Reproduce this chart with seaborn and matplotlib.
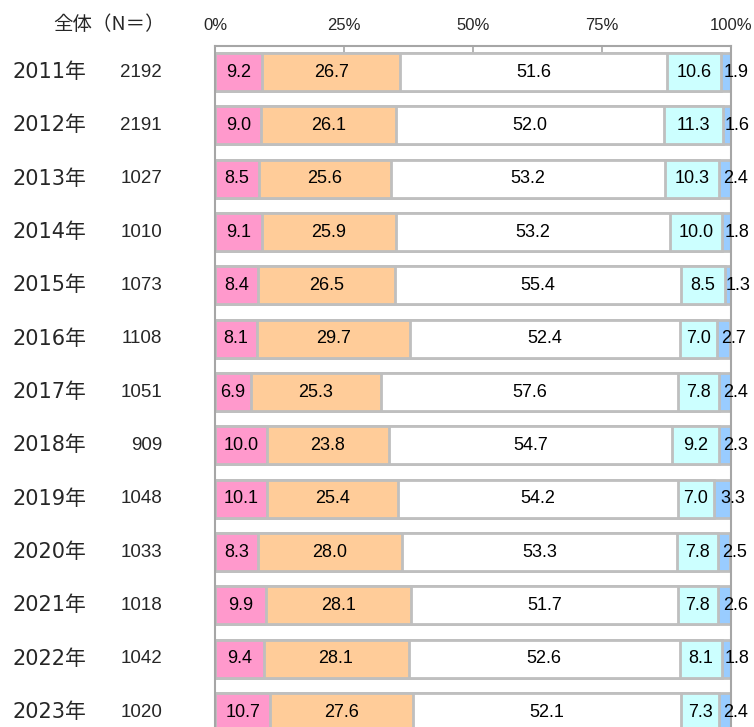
import matplotlib
matplotlib.use("Agg")
import matplotlib.pyplot as plt
import matplotlib.transforms as mtransforms
import numpy as np
import pandas as pd
import seaborn as sns

# Survey results by year (percent of respondents per answer category)
years = ["2011年", "2012年", "2013年", "2014年", "2015年", "2016年", "2017年",
         "2018年", "2019年", "2020年", "2021年", "2022年", "2023年"]
n_counts = [2192, 2191, 1027, 1010, 1073, 1108, 1051, 909, 1048, 1033, 1018, 1042, 1020]
seg1 = [9.2, 9.0, 8.5, 9.1, 8.4, 8.1, 6.9, 10.0, 10.1, 8.3, 9.9, 9.4, 10.7]
seg2 = [26.7, 26.1, 25.6, 25.9, 26.5, 29.7, 25.3, 23.8, 25.4, 28.0, 28.1, 28.1, 27.6]
seg3 = [51.6, 52.0, 53.2, 53.2, 55.4, 52.4, 57.6, 54.7, 54.2, 53.3, 51.7, 52.6, 52.1]
seg4 = [10.6, 11.3, 10.3, 10.0, 8.5, 7.0, 7.8, 9.2, 7.0, 7.8, 7.8, 8.1, 7.3]
seg5 = [1.9, 1.6, 2.4, 1.8, 1.3, 2.7, 2.4, 2.3, 3.3, 2.5, 2.6, 1.8, 2.4]
tick_values = [0, 25, 50, 75, 100]
tick_labels = ["0%", "25%", "50%", "75%", "100%"]
header = "全体（N＝）"

segments = [seg1, seg2, seg3, seg4, seg5]
colors = ["#FF99CC", "#FFCC99", "#FFFFFF", "#CCFFFF", "#99CCFF"]
edge = "#BFBFBF"
num_font = ["Liberation Sans", "DejaVu Sans"]

sns.set_style("white")
plt.rcParams["font.family"] = ["Noto Sans CJK JP", "DejaVu Sans"]

W, H = 754, 727
fig = plt.figure(figsize=(W / 100, H / 100), dpi=100)
ax = fig.add_axes([215 / W, 0, 516 / W, (H - 46) / H])

vals = np.array(segments)            # shape (5, n_years)
cum = np.cumsum(vals, axis=0)
starts = cum - vals

df = pd.DataFrame({"year": years})
for k in range(5):
    df[f"cum{k}"] = cum[k]

# Stacked bars: draw cumulative totals from the outermost segment inwards
for k in range(4, -1, -1):
    sns.barplot(data=df, x=f"cum{k}", y="year", orient="h", color=colors[k],
                saturation=1, edgecolor=edge, linewidth=2.0, width=0.71, ax=ax)

# Value labels inside each segment
for k in range(5):
    for i in range(len(years)):
        v = vals[k, i]
        xc = starts[k, i] + v / 2
        if k == 4:
            xc += 2.0
        ax.text(xc, i, f"{v:.1f}", ha="center", va="center", fontsize=13,
                color="black", family=num_font)

ax.set_xlim(0, 100)
ax.set_ylim(12.28, -0.488)
ax.set_xlabel("")
ax.set_ylabel("")
ax.set_yticks([])
ax.xaxis.tick_top()
ax.set_xticks(tick_values)
ax.set_xticklabels(tick_labels, fontsize=12, family=num_font)
ax.tick_params(axis="x", direction="in", length=5, color="#A6A6A6", pad=9, width=1.2)
for side in ["top", "left", "right"]:
    ax.spines[side].set_color("#A6A6A6")
    ax.spines[side].set_linewidth(1.5)
ax.spines["bottom"].set_visible(False)

# Row labels to the left of the bars
trans = mtransforms.blended_transform_factory(fig.transFigure, ax.transData)
for i, (yr, n) in enumerate(zip(years, n_counts)):
    fig.text(13 / W, i, yr, transform=trans, ha="left", va="center", fontsize=15,
             family=["DejaVu Sans", "Noto Sans CJK JP"])
    fig.text(162 / W, i, str(n), transform=trans, ha="right", va="center", fontsize=13.5,
             family=num_font)

fig.text(109 / W, 1 - 24 / H, header, ha="center", va="center", fontsize=14)

fig.savefig("out.png", dpi=100)
